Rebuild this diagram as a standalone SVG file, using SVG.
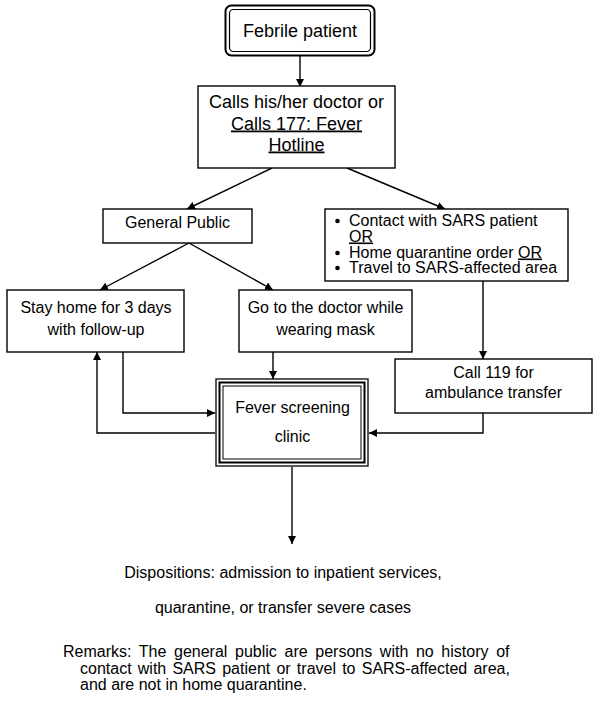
<svg xmlns="http://www.w3.org/2000/svg" width="600" height="706" viewBox="0 0 600 706">
<defs>
<marker id="ah" viewBox="0 0 10 10" refX="10" refY="5" markerWidth="8" markerHeight="8" markerUnits="userSpaceOnUse" orient="auto">
<path d="M0,0 L10,5 L0,10 z" fill="#000"/>
</marker>
<style>
text{font-family:"Liberation Sans",Arial,sans-serif;font-size:16px;fill:#000}
.big{font-size:18px}
.box{fill:#fff;stroke:#000;stroke-width:1.4}
.c{text-anchor:middle}
.u{text-decoration:underline}
#connectors path{fill:none;stroke:#000;stroke-width:1.4;marker-end:url(#ah)}
</style>
</defs>
<rect width="600" height="706" fill="#fff"/>
<g id="connectors">
<path d="M300,56 L300,87"/>
<path d="M272,168 L187,209"/>
<path d="M347,168 L445,209"/>
<path d="M189,243 L100,290"/>
<path d="M189,243 L273,290"/>
<path d="M273,352 L273,379"/>
<path d="M483,281 L483,359"/>
<path d="M483,413 L483,433 L369,433"/>
<path d="M123,352 L123,413 L215,413"/>
<path d="M215,433 L97,433 L97,352"/>
<path d="M292,467 L292,544"/>
</g>
<g id="febrile">
<rect x="225.5" y="5.5" width="149" height="50" rx="6" fill="#fff" stroke="#000" stroke-width="2"/>
<rect x="229.5" y="9.5" width="141" height="42" rx="4" fill="none" stroke="#000" stroke-width="1.2"/>
<text class="big c" x="300" y="37">Febrile patient</text>
</g>
<g id="calls">
<rect class="box" x="198" y="86" width="197" height="82"/>
<text class="big c" x="296.5" y="108">Calls his/her doctor or</text>
<text class="big c u" x="296.5" y="129.5">Calls 177: Fever</text>
<text class="big c u" x="296.5" y="150.5">Hotline</text>
</g>
<g id="general">
<rect class="box" x="103" y="209" width="149" height="34"/>
<text class="c" x="177.5" y="228">General Public</text>
</g>
<g id="sars">
<rect class="box" x="325" y="209" width="243" height="72"/>
<circle cx="337.5" cy="221" r="2.3"/>
<circle cx="337.5" cy="253" r="2.3"/>
<circle cx="337.5" cy="268" r="2.3"/>
<text x="349" y="226">Contact with SARS patient</text>
<text x="349" y="241.5" class="u">OR</text>
<text x="349" y="257.5">Home quarantine order <tspan class="u">OR</tspan></text>
<text x="349" y="272.5">Travel to SARS-affected area</text>
</g>
<g id="stayhome">
<rect class="box" x="7" y="290" width="177" height="62"/>
<text class="c" x="96" y="313">Stay home for 3 days</text>
<text class="c" x="96" y="335">with follow-up</text>
</g>
<g id="godoctor">
<rect class="box" x="239" y="290" width="173" height="62"/>
<text class="c" x="325.5" y="313">Go to the doctor while</text>
<text class="c" x="325.5" y="335">wearing mask</text>
</g>
<g id="call119">
<rect class="box" x="395" y="359" width="197" height="54"/>
<text class="c" x="493.5" y="378">Call 119 for</text>
<text class="c" x="493.5" y="398">ambulance transfer</text>
</g>
<g id="clinic">
<rect x="216" y="379" width="152" height="87" fill="#fff" stroke="#000" stroke-width="1.3"/>
<rect x="219.5" y="382.5" width="145" height="80" fill="none" stroke="#000" stroke-width="2"/>
<rect x="223" y="386" width="138" height="73" fill="none" stroke="#000" stroke-width="1"/>
<text class="c" x="292.5" y="413">Fever screening</text>
<text class="c" x="292.5" y="442">clinic</text>
</g>
<g id="dispositions">
<text class="c" x="283" y="578">Dispositions: admission to inpatient services,</text>
<text class="c" x="283" y="613">quarantine, or transfer severe cases</text>
</g>
<g id="remarks">
<text x="63" y="657" word-spacing="3.2">Remarks: The general public are persons with no history of</text>
<text x="80" y="673.5" word-spacing="1.75">contact with SARS patient or travel to SARS-affected area,</text>
<text x="80" y="690">and are not in home quarantine.</text>
</g>
</svg>
